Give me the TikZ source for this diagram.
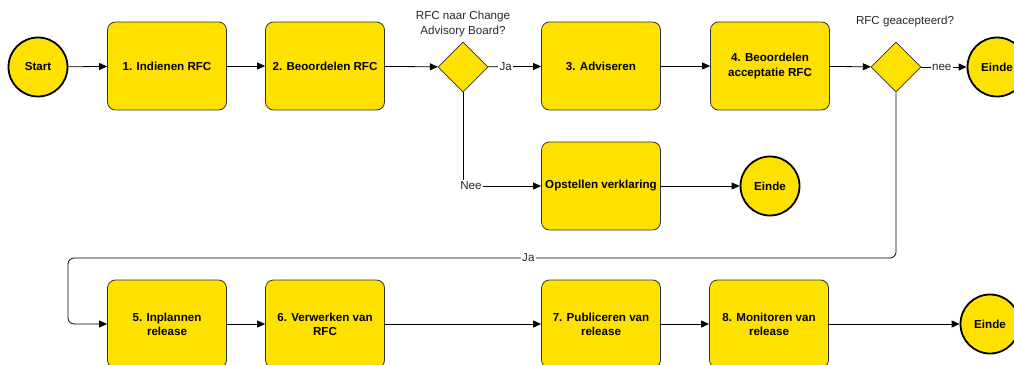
\documentclass[tikz,border=0pt]{standalone}
\usepackage{fontspec}
\setmainfont{Liberation Sans}
\usetikzlibrary{shapes.geometric,arrows.meta}
\definecolor{flowyellow}{RGB}{255,225,0}
\definecolor{edgegray}{RGB}{51,51,51}
\definecolor{lblgray}{RGB}{40,40,40}
\tikzset{
  taskbox/.style={draw=edgegray, line width=0.8pt, fill=flowyellow, rounded corners=8pt,
    minimum width=119pt, minimum height=88pt, inner sep=1pt, align=center,
    font=\fontsize{11.6}{14}\selectfont\bfseries},
  eventcirc/.style={draw=black, line width=1.8pt, fill=flowyellow, circle, minimum size=59pt,
    inner sep=0pt, font=\fontsize{11.6}{14}\selectfont\bfseries},
  gateway/.style={draw=edgegray, line width=0.8pt, fill=flowyellow, diamond, minimum width=50pt,
    minimum height=50pt, inner sep=0pt},
  flow/.style={draw=black, line width=0.8pt, -{Triangle[length=8pt,width=7pt]}},
  lbl/.style={fill=white, inner sep=1.5pt, text=lblgray, font=\fontsize{11.6}{14}\selectfont},
  qlbl/.style={inner sep=0pt, text=lblgray, align=center, font=\fontsize{11.6}{15.5}\selectfont}
}
\begin{document}
\begin{tikzpicture}[x=1pt,y=-1pt]
\clip (0,0) rectangle (1014,364);
\fill[white] (0,0) rectangle (1014,364);
% row 1
\node[eventcirc] (start) at (38,67) {Start};
\node[taskbox] (b1) at (167,66) {1. Indienen RFC};
\node[taskbox] (b2) at (325,66) {2. Beoordelen RFC};
\node[gateway] (d1) at (463,67) {};
\node[qlbl] (q1) at (463,24) {RFC naar Change\\Advisory Board?};
\node[taskbox] (b3) at (601,66) {3. Adviseren};
\node[taskbox] (b4) at (770,66) {4. Beoordelen\\acceptatie RFC};
\node[gateway] (d2) at (896,67) {};
\node[qlbl] (q2) at (905,22) {RFC geacepteerd?};
\node[eventcirc] (e1) at (997,67) {Einde};
% row 2
\node[taskbox] (ops) at (601,186) {Opstellen verklaring};
\node[eventcirc] (e2) at (770,186) {Einde};
% row 3
\node[taskbox] (b5) at (167,324) {5. Inplannen\\release};
\node[taskbox] (b6) at (325,324) {6. Verwerken van\\RFC};
\node[taskbox] (b7) at (601,324) {7. Publiceren van\\release};
\node[taskbox] (b8) at (769,324) {8. Monitoren van\\release};
\node[eventcirc] (e3) at (990,324) {Einde};
\coordinate (c1) at (896,258);
\coordinate (c2) at (68,258);
% connectors
\draw[flow] (start) -- (b1);
\draw[flow] (b1) -- (b2);
\draw[flow] (b2) -- (d1);
\draw[flow] (d1) -- node[lbl, pos=0.33] {Ja} (b3);
\draw[flow] (b3) -- (b4);
\draw[flow] (b4) -- (d2);
\draw[flow] (d2) -- node[lbl, pos=0.45] {nee} (e1);
\draw[flow] (d1.south) |- node[lbl, pos=0.5, xshift=8pt] {Nee} (ops.west);
\draw[flow] (ops) -- (e2);
\draw[flow, rounded corners=6pt] (d2.south) -- (c1) -- node[lbl, pos=0.444] {Ja} (c2) -- (c2 |- b5.west) -- (b5.west);
\draw[flow] (b5) -- (b6);
\draw[flow] (b6) -- (b7);
\draw[flow] (b7) -- (b8);
\draw[flow] (b8) -- (e3);
\end{tikzpicture}
\end{document}
